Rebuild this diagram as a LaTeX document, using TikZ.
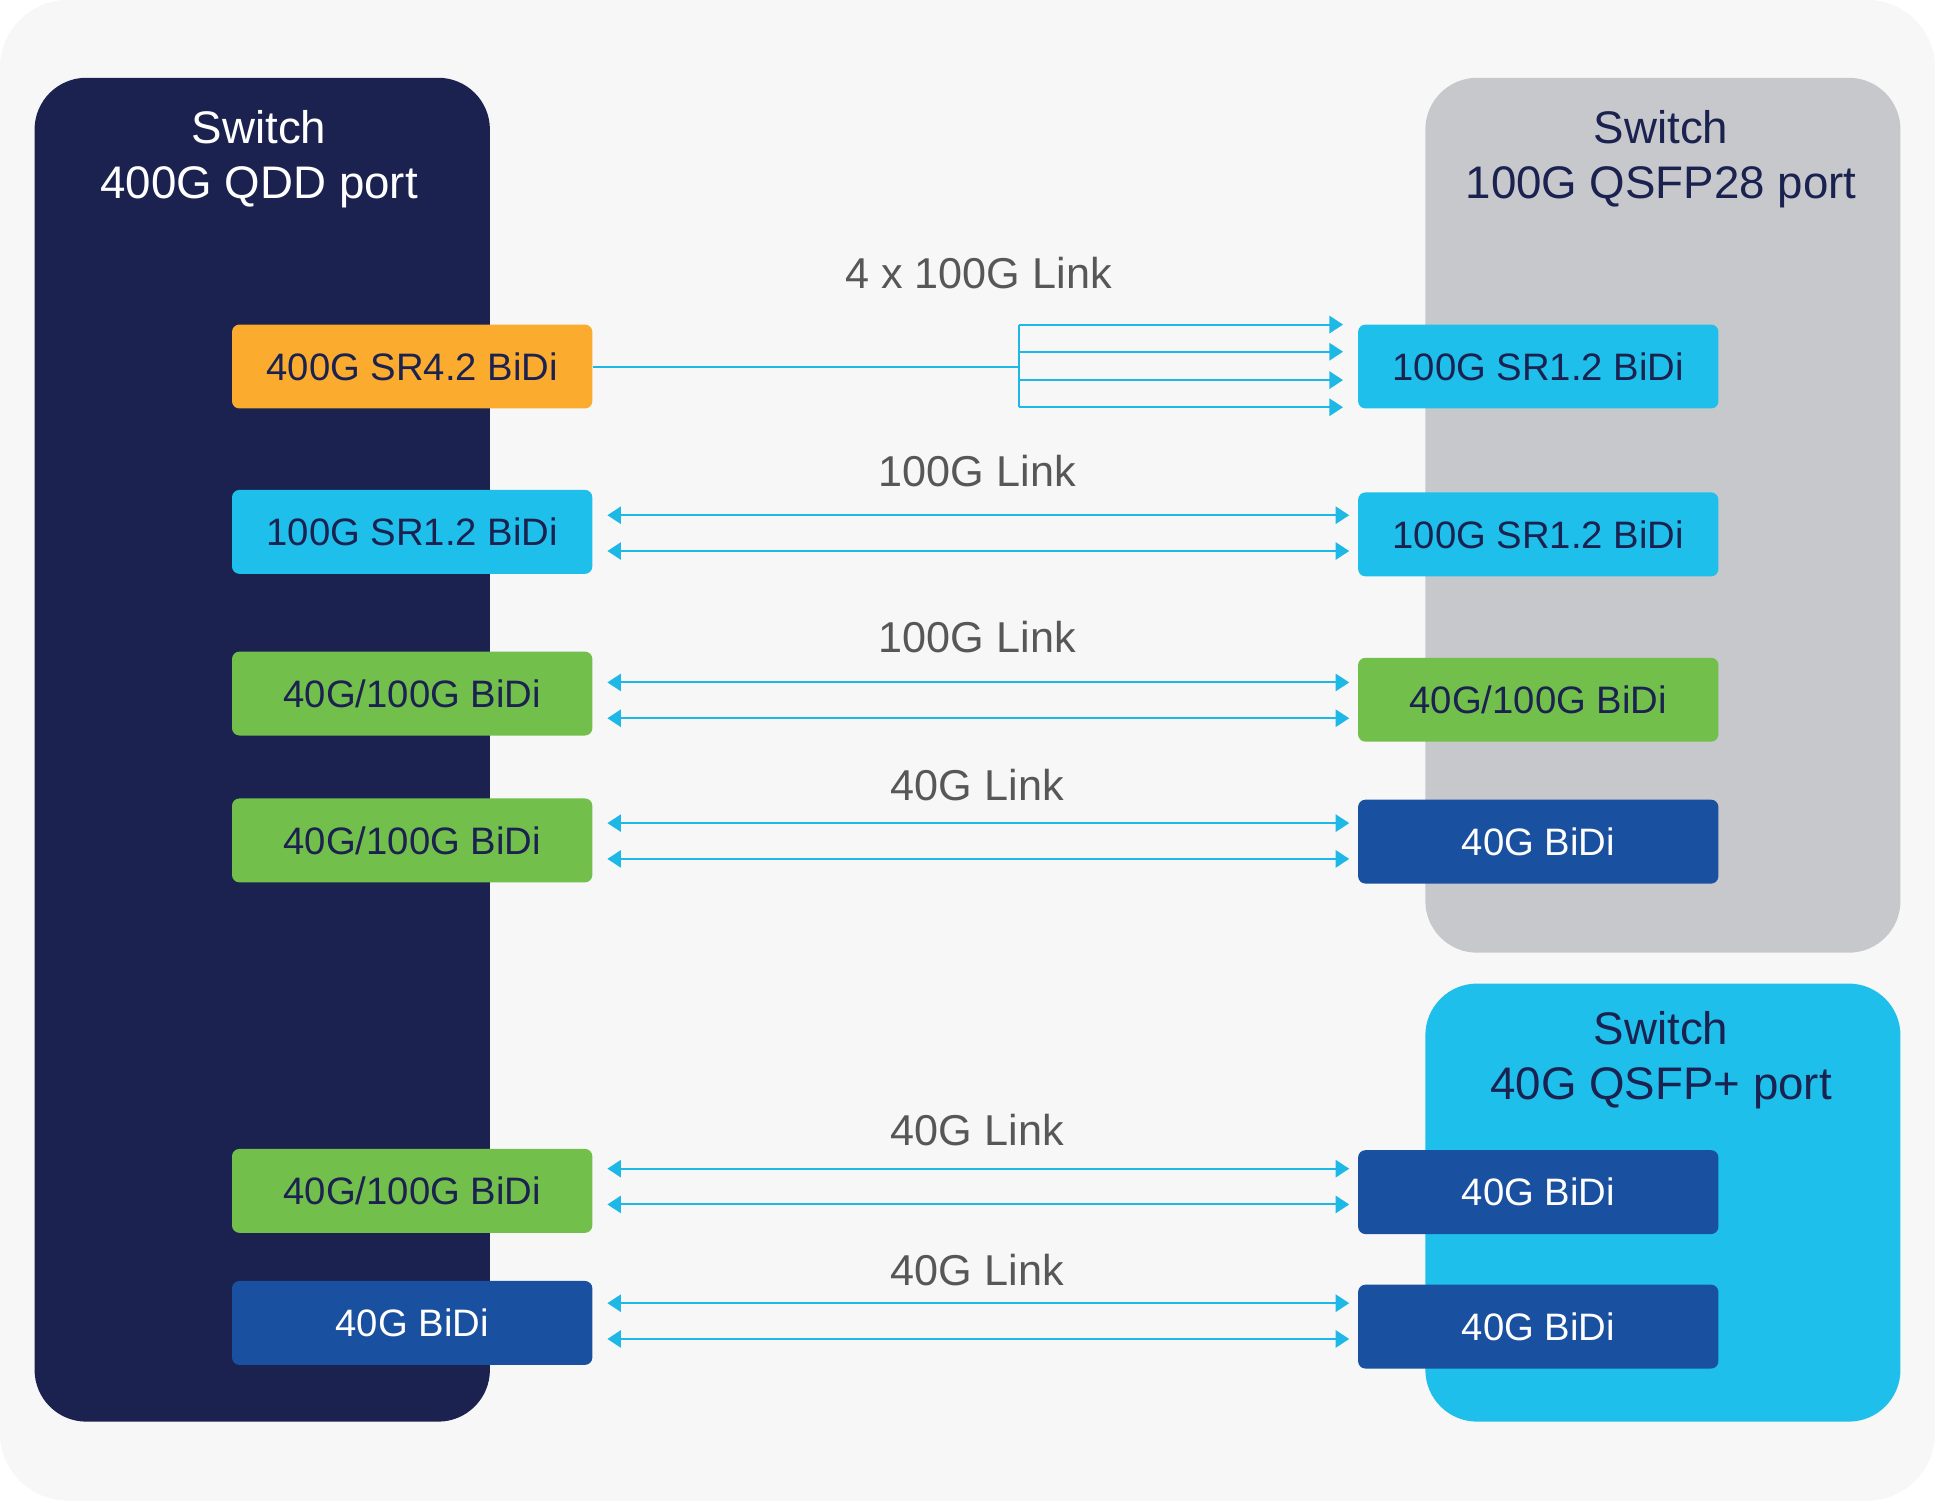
\documentclass[tikz,border=0pt]{standalone}
\usepackage{fontspec}
\setmainfont{Liberation Sans}
\usepackage{tikz}
\usetikzlibrary{arrows.meta}

\definecolor{bggray}{HTML}{F7F7F7}
\definecolor{navy}{HTML}{1B2250}
\definecolor{swgray}{HTML}{C6C8CB}
\definecolor{cyanmod}{HTML}{1EBFEB}
\definecolor{orangemod}{HTML}{FBAB2D}
\definecolor{greenmod}{HTML}{72BF4C}
\definecolor{bluemod}{HTML}{1A50A0}
\definecolor{linkblue}{HTML}{1DB8E6}
\definecolor{labelgray}{HTML}{575757}

\tikzset{
  title/.style={align=center, font=\fontsize{37}{44}\selectfont},
  port/.style={rounded corners=6pt, minimum width=292pt, minimum height=68pt,
    inner sep=0pt, text=navy, font=\fontsize{31}{37}\selectfont},
  linklabel/.style={text=labelgray, font=\fontsize{35}{40}\selectfont},
  wire/.style={draw=linkblue, line width=1.6pt},
  link/.style={wire, {Triangle[length=11pt,width=14pt]}-{Triangle[length=11pt,width=14pt]},
    shorten <=12pt, shorten >=7pt},
}

\begin{document}
\begin{tikzpicture}[x=1pt,y=-1pt]
  \fill[white] (0,0) rectangle (1568,1216);
  \fill[bggray, rounded corners=55pt] (0,0) rectangle (1568,1216);
  % Switches
  \fill[navy, rounded corners=42pt] (28,63) rectangle (397,1152);
  \fill[swgray, rounded corners=42pt] (1155,63) rectangle (1540,772);
  \fill[cyanmod, rounded corners=42pt] (1155,797) rectangle (1540,1152);
  \node[title, text=white] (swqdd) at (210,129) {Switch\\400G QDD port};
  \node[title, text=navy] (swqsfp28) at (1346,129) {Switch\\100G QSFP28 port};
  \node[title, text=navy] (swqsfp) at (1346,859) {Switch\\40G QSFP+ port};
  % Left modules
  \node[port, fill=orangemod] (l1) at (334,297) {400G SR4.2 BiDi};
  \node[port, fill=cyanmod] (l2) at (334,431) {100G SR1.2 BiDi};
  \node[port, fill=greenmod] (l3) at (334,562) {40G/100G BiDi};
  \node[port, fill=greenmod] (l4) at (334,681) {40G/100G BiDi};
  \node[port, fill=greenmod] (l5) at (334,965) {40G/100G BiDi};
  \node[port, fill=bluemod, text=white] (l6) at (334,1072) {40G BiDi};
  % Right modules
  \node[port, fill=cyanmod] (r1) at (1246.5,297) {100G SR1.2 BiDi};
  \node[port, fill=cyanmod] (r2) at (1246.5,433) {100G SR1.2 BiDi};
  \node[port, fill=greenmod] (r3) at (1246.5,567) {40G/100G BiDi};
  \node[port, fill=bluemod, text=white] (r4) at (1246.5,682) {40G BiDi};
  \node[port, fill=bluemod, text=white] (r5) at (1246.5,966) {40G BiDi};
  \node[port, fill=bluemod, text=white] (r6) at (1246.5,1075) {40G BiDi};
  % Breakout link
  \node[linklabel] (t1) at (793,221) {4 x 100G Link};
  \coordinate (split) at (826,297);
  \draw[wire] (l1.east) -- (split);
  \draw[wire] (split) ++(0,-34) -- ++(0,67);
  \foreach \dy in {-34,-12,11,33}
    \draw[wire, -{Triangle[length=11pt,width=14pt]}, shorten >=12pt]
      (split) ++(0,\dy) coordinate (f) -- (f -| r1.west);
  % Duplex links
  \foreach \i/\ym/\ly/\txt in {2/432/382/100G Link,3/567.5/516/100G Link,4/681.5/636/40G Link,
                               5/961.5/916/40G Link,6/1070.5/1029/40G Link}{
    \coordinate (m\i) at (792,\ym);
    \node[linklabel] (t\i) at (792,\ly) {\txt};
    \draw[link] (m\i -| l\i.east) ++(0,-14.5) coordinate (a) -- (a -| r\i.west);
    \draw[link] (m\i -| l\i.east) ++(0,14.5) coordinate (b) -- (b -| r\i.west);
  }
\end{tikzpicture}
\end{document}
